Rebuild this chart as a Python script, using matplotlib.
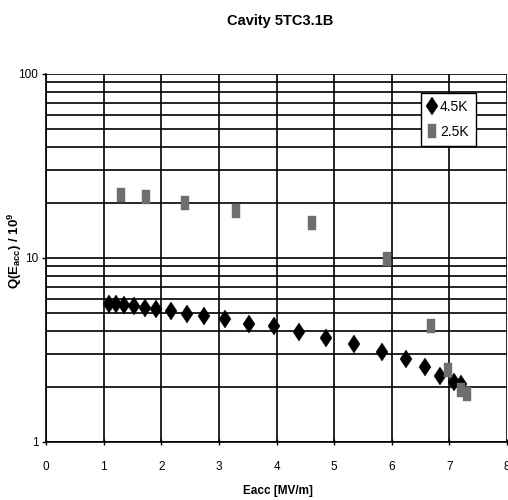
import matplotlib
matplotlib.use("Agg")
import matplotlib.pyplot as plt
from matplotlib.ticker import LogLocator, FixedLocator, NullFormatter
import numpy as np

plt.rcParams['font.family'] = ['Liberation Sans', 'DejaVu Sans']

title = "Cavity 5TC3.1B"
xlabel = "Eacc [MV/m]"
series_names = ["4.5K", "2.5K"]

eacc_45 = [1.10, 1.22, 1.36, 1.53, 1.71, 1.91, 2.17, 2.44, 2.75, 3.10, 3.52, 3.95,
           4.39, 4.86, 5.35, 5.83, 6.25, 6.58, 6.84, 7.08, 7.21]
q_45 = [5.60, 5.60, 5.55, 5.48, 5.37, 5.30, 5.13, 4.94, 4.84, 4.66, 4.40, 4.25,
        3.95, 3.66, 3.40, 3.10, 2.81, 2.55, 2.29, 2.13, 2.07]

eacc_25 = [1.31, 1.74, 2.41, 3.30, 4.62, 5.91, 6.68, 6.98, 7.21, 7.30]
q_25 = [21.9, 21.4, 19.8, 17.9, 15.4, 9.9, 4.27, 2.46, 1.92, 1.82]

xticks = [0, 1, 2, 3, 4, 5, 6, 7, 8]
yticks = [1, 10, 100]

fig = plt.figure(figsize=(5.08, 5.00), dpi=100)
ax = fig.add_axes([46/508, 1-442/500, 461/508, 368/500])

ax.set_yscale('log')
ax.set_xlim(0, 8)
ax.set_ylim(1, 100)

ax.xaxis.set_major_locator(FixedLocator(xticks))
ax.yaxis.set_major_locator(FixedLocator(yticks))
ax.yaxis.set_minor_locator(LogLocator(base=10, subs=np.arange(2, 10)))
ax.yaxis.set_minor_formatter(NullFormatter())
ax.set_xticklabels([str(t) for t in xticks])
ax.set_yticklabels([str(t) for t in yticks])

ax.grid(True, which='major', axis='both', color='black', linewidth=1.2)
ax.grid(True, which='minor', axis='y', color='black', linewidth=1.2)
ax.set_axisbelow(True)

for s in ax.spines.values():
    s.set_color('black')
    s.set_linewidth(1.2)
ax.spines['top'].set_visible(False)
ax.spines['right'].set_visible(False)

ax.tick_params(axis='both', which='major', direction='out', length=3, width=1,
               labelsize=8.5, colors='black', pad=2.5)
ax.tick_params(axis='y', which='minor', length=0)
ax.tick_params(axis='x', which='major', direction='inout', length=5, pad=11)

rect = [(-0.33, -0.5), (0.33, -0.5), (0.33, 0.5), (-0.33, 0.5), (-0.33, -0.5)]
ax.plot(eacc_45, q_45, linestyle='none', marker='d', markersize=9.5,
        markeredgewidth=0.3, color='black', label=series_names[0], zorder=3)
ax.plot(eacc_25, q_25, linestyle='none', marker=rect, markersize=9.5,
        markeredgewidth=0.3, color='#6e6e6e', label=series_names[1], zorder=3)

leg = ax.legend(loc='upper right', bbox_to_anchor=(0.932, 0.949), borderaxespad=0,
                fancybox=False, framealpha=1, edgecolor='black', fontsize=10,
                handlelength=0.6, handletextpad=0.25, borderpad=0.5,
                labelspacing=0.8)
leg.get_frame().set_linewidth(1.0)

fig.text(280/508, 1-20.5/500, title, ha='center', va='center',
         fontsize=10.5, fontweight='bold')
fig.text(277.5/508, 1-491/500, xlabel, ha='center', va='center',
         fontsize=8.5, fontweight='bold')
fig.text(15/508, 1-251/500, r'Q(E$_{\mathregular{acc}}$) / 10$^{\mathregular{9}}$',
         ha='center', va='center', rotation=90, fontsize=9.5, fontweight='bold')

fig.savefig('out.png', dpi=100)
